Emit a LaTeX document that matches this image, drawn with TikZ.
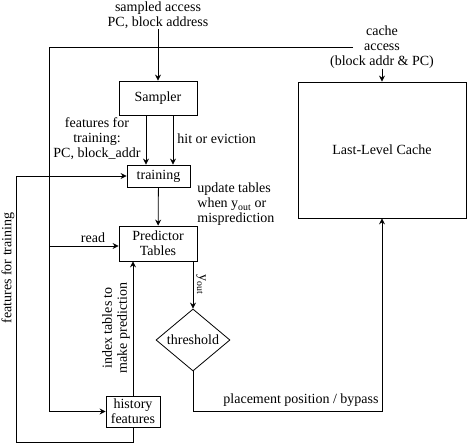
\documentclass[tikz,border=0pt]{standalone}
\usepackage{fontspec}
\setmainfont{Liberation Serif}
\usetikzlibrary{shapes.geometric,arrows.meta}

\begin{document}
\begin{tikzpicture}[x=1pt, y=-1pt, line width=0.8pt, >={Stealth[length=6pt,width=6pt,inset=2pt]},
                    font=\fontsize{14}{15}\selectfont,
                    block/.style = {draw, rectangle, inner sep=0pt, align=center},
                    decision/.style = {draw, diamond, inner sep=0pt, minimum width=74pt, minimum height=62pt},
                    txt/.style = {inner sep=0pt, align=center}]
                    \useasboundingbox (0,0) rectangle (467,443);

                    \node[block, minimum width=78pt, minimum height=34pt] (sampler) at (158,98) {Sampler};
                    \node[block, minimum width=63pt, minimum height=22pt] (training) at (158.5,176) {training};
                    \node[block, minimum width=78pt, minimum height=35pt] (pred) at (158,243.5) {Predictor\\Tables};
                    \node[block, minimum width=54pt, minimum height=31pt] (hist) at (133,411.5) {history\\features};
                    \node[decision] (thr) at (193,340) {threshold};
                    \node[block, minimum width=168pt, minimum height=136pt] (llc) at (382,150) {Last-Level Cache};

                    \node[txt] (sa) at (158,15) {sampled access\\PC, block address};
                    \node[txt] (ca) at (382,47) {cache\\access\\(block addr \& PC)};
                    \node[txt] (fft) at (97,139) {features for\\training:\\PC, block\_addr};
                    \node[txt, anchor=west] (hoe) at (177,139) {hit or eviction};
                    \node[txt, anchor=west, align=left, text depth=0pt] (upd) at (197,203) {update tables\\when y\textsubscript{out} or\\misprediction};
                    \node[txt] (rd) at (93,238) {read};
                    \node[txt, rotate=90] (ift) at (116,328) {index tables to\\make prediction};
                    \node[txt, rotate=90] (fftr) at (8,268) {features for training};
                    \node[txt, rotate=-90] (yout) at (201,285) {y\textsubscript{out}};
                    \node[txt] (ppb) at (301,400) {placement position / bypass};

                    \coordinate (cacc) at (353,47);
                    \coordinate (bus) at (49,47);
                    \coordinate (pp) at (382,411);
                    \coordinate (fb) at (16,442);

                    \draw[->] (sa) -- (sampler);
                    \draw[->] (ca) -- (llc.north);
                    \draw[->] (cacc) -- (bus) |- (hist);
                    \draw[->] (bus |- 0,246) -- (pred.west |- 0,246);
                    \draw[->] ([xshift=-12pt]sampler.south) -- ([xshift=-12pt]sampler.south |- training.north);
                    \draw[->] ([xshift=15pt]sampler.south) -- ([xshift=15pt]sampler.south |- training.north);
                    \draw[->] (training) -- (pred);
                    \draw[->] (thr.north |- pred.south) -- (thr.north);
                    \draw[->] (thr.south) |- (pp) -- (llc.south);
                    \draw[->] (hist) -- (hist |- pred.south);
                    \draw[->] (hist.south) |- (fb) |- (training.west);
                \end{tikzpicture}
\end{document}
